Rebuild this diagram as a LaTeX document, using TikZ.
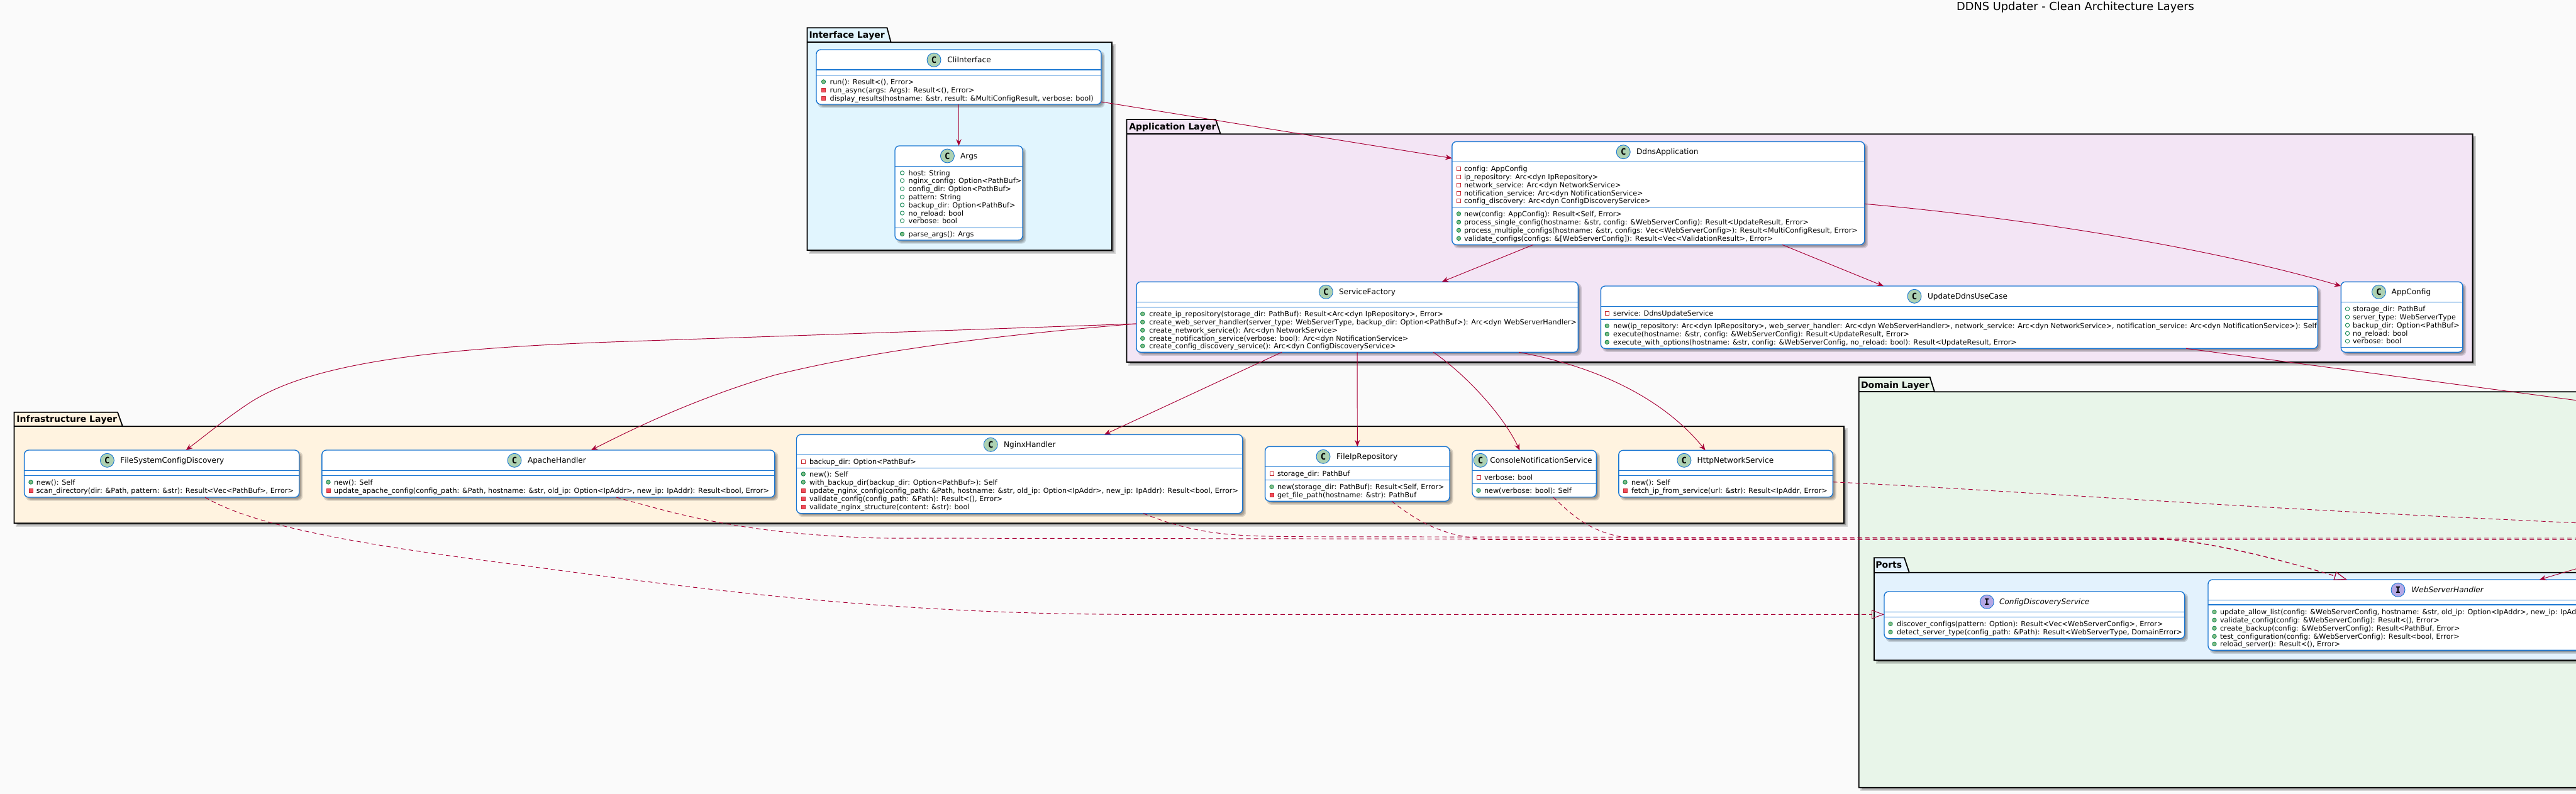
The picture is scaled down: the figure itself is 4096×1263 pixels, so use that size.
\documentclass[tikz,border=0pt]{standalone}
\usepackage{fontspec}
\setmainfont[Ligatures=NoCommon,Kerning=Off]{DejaVu Sans}
\newfontfamily\iconfont{DejaVu Sans Mono}
\usetikzlibrary{arrows.meta}
\definecolor{bgcol}{HTML}{FAFAFA}
\definecolor{relcol}{HTML}{A80036}
\definecolor{boxline}{HTML}{1976D2}
\definecolor{pkgI}{HTML}{E1F5FE}
\definecolor{pkgA}{HTML}{F3E5F5}
\definecolor{pkgS}{HTML}{FFF3E0}
\definecolor{pkgD}{HTML}{E8F5E9}
\definecolor{pkgP}{HTML}{E3F2FD}
\definecolor{iconC}{HTML}{ADD1B2}
\definecolor{iconI}{HTML}{B4A7E5}
\definecolor{publine}{HTML}{038048}
\definecolor{pubfill}{HTML}{84BE84}
\definecolor{prvline}{HTML}{C82930}
\definecolor{prvfill}{HTML}{F24D5C}
\tikzset{
  classnode/.style={draw=boxline,fill=white,line width=1.4pt,rounded corners=7pt,inner sep=0pt,outer sep=0pt},
  sepline/.style={draw=boxline,line width=1.4pt},
  iconnode/.style={circle,draw=boxline,line width=.9pt,minimum size=22pt,inner sep=0pt,outer sep=0pt,font=\iconfont\bfseries\fontsize{14}{14}\selectfont},
  namenode/.style={anchor=base west,inner sep=0pt,outer sep=0pt,font=\fontsize{12.1}{14}\selectfont},
  memnode/.style={anchor=base west,inner sep=0pt,outer sep=0pt,font=\fontsize{11.2}{13}\selectfont},
  pkgtitle/.style={anchor=base west,inner sep=0pt,outer sep=0pt,font=\bfseries\fontsize{14}{16}\selectfont},
  pkgline/.style={draw=black,line width=1.8pt,line join=miter},
  rel/.style={draw=relcol,line width=.95pt,-{Stealth[length=10.5pt,width=8.5pt,inset=3.5pt]}},
  impl/.style={draw=relcol,line width=.95pt,dash pattern=on 7pt off 5pt,-{Triangle[open,length=20pt,width=14pt]}},
  implout/.style={draw=relcol,line width=.95pt,dash pattern=on 7pt off 5pt},
  relout/.style={draw=relcol,line width=.95pt},
}
\newcount\memno
\newcommand\shadowbox[5]{% l t r b radius
  \foreach \g in {1.5,0,-1.5}
    \fill[black,opacity=.14,rounded corners=#5pt] (#1+4-\g,#2+4-\g) rectangle (#3+4+\g,#4+4+\g);
}
\newcommand\pkgbox[9]{%
  \shadowbox{#2}{#3+23}{#7}{#8}{0}
  \path[fill=#9] (#2,#6) -- (#2,#3) -- (#4,#3) -- (#5,#6) -- (#7,#6) -- (#7,#8) -- (#2,#8) -- cycle;
  \draw[pkgline] (#2,#6) -- (#2,#3) -- (#4,#3) -- (#5,#6) -- (#7,#6) -- (#7,#8) -- (#2,#8) -- cycle;
  \draw[pkgline] (#2,#6) -- (#5,#6);
}
\newcommand\classbox[7]{% id l t r b sep1 sep2
  \shadowbox{#2}{#3}{#4}{#5}{7}
  \pgfmathsetmacro\cw{#4-#2}
  \pgfmathsetmacro\ch{#5-#3}
  \node[classnode,minimum width=\cw pt,minimum height=\ch pt] (#1) at ({(#2+#4)/2},{(#3+#5)/2}) {};
  \draw[sepline] (#2,#6) -- (#4,#6);
  \draw[sepline] (#2,#7) -- (#4,#7);
}
\newcommand\classhead[7]{% id letter fill iconx y namex text
  \node[iconnode,fill=#3] (#1-icon) at (#4,#5) {#2};
  \node[namenode] (#1-name) at (#6,{#5+4.2}) {#7};
}
\newcommand\setcols[2]{\def\mx{#1}\def\tx{#2}}
\newcommand\memb[3]{%
  \global\advance\memno by 1
  \csname mk#1\endcsname{#2}%
  \node[memnode] (mem\the\memno) at (\tx,{#2+4.2}) {#3};
}
\newcommand\mkP[1]{\draw[draw=publine,fill=pubfill,line width=.8pt] (\mx,#1) circle[radius=3.2];}
\newcommand\mkF[1]{\draw[draw=publine,line width=.8pt] (\mx,#1) circle[radius=3.2];}
\newcommand\mkM[1]{\draw[draw=prvline,fill=prvfill,line width=.8pt] (\mx-3,#1-3) rectangle (\mx+3,#1+3);}
\newcommand\mkN[1]{\draw[draw=prvline,line width=.8pt] (\mx-3,#1-3) rectangle (\mx+3,#1+3);}
\begin{document}
\begin{tikzpicture}[x=1pt,y=-1pt]
\useasboundingbox (0,0) rectangle (4096,1263);
\fill[bgcol] (0,0) rectangle (4096,1263);
\clip (0,0) rectangle (4096,1263);

\node[anchor=base west,inner sep=0pt,font=\fontsize{17.8}{20}\selectfont] (title) at (3111,17) {DDNS Updater - Clean Architecture Layers};

% packages
\pkgbox{ifl}{1283.5}{44.3}{1410.5}{1416.6}{67.3}{1768}{398}{pkgI}
\node[pkgtitle] (iflT) at (1286.5,60) {Interface Layer};
\pkgbox{app}{1791.5}{190}{1933}{1940.7}{213.3}{3931.6}{576}{pkgA}
\node[pkgtitle] (appT) at (1795.3,206) {Application Layer};
\pkgbox{inf}{22.5}{655.7}{187}{195}{678.3}{2932}{832.3}{pkgS}
\node[pkgtitle] (infT) at (26.5,671) {Infrastructure Layer};
\pkgbox{dom}{2955.7}{600}{3068.7}{3076}{623.3}{4200}{1252.7}{pkgD}
\node[pkgtitle] (domT) at (2959,617) {Domain Layer};
\pkgbox{prt}{2980}{887.3}{3028}{3035.8}{910.7}{4200}{1050.3}{pkgP}
\node[pkgtitle] (prtT) at (2982.4,903) {Ports};

% Interface layer
\classbox{cli}{1298}{79}{1751}{166}{111}{119.3}
\classhead{cli}{C}{iconC}{1485}{95.3}{1506.4}{CliInterface}
\setcols{1309.5}{1319.7}
\memb{P}{130}{run(): Result<(), Error>}
\memb{M}{143.3}{run\_async(args: Args): Result<(), Error>}
\memb{M}{156}{display\_results(hostname: \&str, result: \&MultiConfigResult, verbose: bool)}

\classbox{args}{1423}{232}{1626}{382}{264.3}{362.3}
\classhead{args}{C}{iconC}{1506.4}{248}{1527}{Args}
\setcols{1434.5}{1444.7}
\memb{F}{275}{host: String}
\memb{F}{287.3}{nginx\_config: Option<PathBuf>}
\memb{F}{300.3}{config\_dir: Option<PathBuf>}
\memb{F}{313.3}{pattern: String}
\memb{F}{326}{backup\_dir: Option<PathBuf>}
\memb{F}{339}{no\_reload: bool}
\memb{F}{351}{verbose: bool}
\memb{P}{372.3}{parse\_args(): Args}

% Application layer
\classbox{ddns}{2308.8}{225.3}{2964.7}{389.3}{257.3}{329.3}
\classhead{ddns}{C}{iconC}{2581.2}{241.7}{2602}{DdnsApplication}
\setcols{2319.5}{2328}
\memb{N}{268.3}{config: AppConfig}
\memb{N}{281.3}{ip\_repository: Arc<dyn IpRepository>}
\memb{N}{294.3}{network\_service: Arc<dyn NetworkService>}
\memb{N}{307.3}{notification\_service: Arc<dyn NotificationService>}
\memb{N}{319.7}{config\_discovery: Arc<dyn ConfigDiscoveryService>}
\memb{P}{340}{new(config: AppConfig): Result<Self, Error>}
\memb{P}{353.3}{process\_single\_config(hostname: \&str, config: \&WebServerConfig): Result<UpdateResult, Error>}
\memb{P}{366.3}{process\_multiple\_configs(hostname: \&str, configs: Vec<WebServerConfig>): Result<MultiConfigResult, Error>}
\memb{P}{379.3}{validate\_configs(configs: \&[WebServerConfig]): Result<Vec<ValidationResult>, Error>}

\classbox{sf}{1806.8}{448.3}{2509.3}{560.3}{480.3}{488.7}
\classhead{sf}{C}{iconC}{2108.3}{464.3}{2129}{ServiceFactory}
\setcols{1816.7}{1827.4}
\memb{P}{499.3}{create\_ip\_repository(storage\_dir: PathBuf): Result<Arc<dyn IpRepository>, Error>}
\memb{P}{512.3}{create\_web\_server\_handler(server\_type: WebServerType, backup\_dir: Option<PathBuf>): Arc<dyn WebServerHandler>}
\memb{P}{525.3}{create\_network\_service(): Arc<dyn NetworkService>}
\memb{P}{538.3}{create\_notification\_service(verbose: bool): Arc<dyn NotificationService>}
\memb{P}{550.3}{create\_config\_discovery\_service(): Arc<dyn ConfigDiscoveryService>}

\classbox{upd}{2545.3}{455}{3685.3}{554.3}{487.3}{508}
\classhead{upd}{C}{iconC}{3044}{471.3}{3065}{UpdateDdnsUseCase}
\setcols{2555.2}{2565}
\memb{N}{498.3}{service: DdnsUpdateService}
\memb{P}{518.3}{new(ip\_repository: Arc<dyn IpRepository>, web\_server\_handler: Arc<dyn WebServerHandler>, network\_service: Arc<dyn NetworkService>, notification\_service: Arc<dyn NotificationService>): Self}
\memb{P}{531.3}{execute(hostname: \&str, config: \&WebServerConfig): Result<UpdateResult, Error>}
\memb{P}{544.3}{execute\_with\_options(hostname: \&str, config: \&WebServerConfig, no\_reload: bool): Result<UpdateResult, Error>}

\classbox{cfg}{3722.3}{448.3}{3915.8}{560.3}{480.3}{552.3}
\classhead{cfg}{C}{iconC}{3782.5}{464.3}{3802.7}{AppConfig}
\setcols{3732.5}{3741}
\memb{F}{491.3}{storage\_dir: PathBuf}
\memb{F}{504.3}{server\_type: WebServerType}
\memb{F}{517.3}{backup\_dir: Option<PathBuf>}
\memb{F}{530.3}{no\_reload: bool}
\memb{F}{542.7}{verbose: bool}

% Infrastructure layer
\classbox{fscd}{38.6}{716}{475.7}{791}{748.3}{756.3}
\classhead{fscd}{C}{iconC}{170.4}{732.3}{191.3}{FileSystemConfigDiscovery}
\setcols{49}{57.9}
\memb{P}{767}{new(): Self}
\memb{M}{780.3}{scan\_directory(dir: \&Path, pattern: \&str): Result<Vec<PathBuf>, Error>}

\classbox{apa}{511.9}{716}{1231.9}{791}{748.3}{756.3}
\classhead{apa}{C}{iconC}{818}{732.3}{839}{ApacheHandler}
\setcols{522}{531}
\memb{P}{767}{new(): Self}
\memb{M}{780.3}{update\_apache\_config(config\_path: \&Path, hostname: \&str, old\_ip: Option<IpAddr>, new\_ip: IpAddr): Result<bool, Error>}

\classbox{ngx}{1266.5}{691.3}{1975.7}{816.7}{723.3}{744.3}
\classhead{ngx}{C}{iconC}{1575.2}{707.3}{1596}{NginxHandler}
\setcols{1277.2}{1287}
\memb{N}{734.3}{backup\_dir: Option<PathBuf>}
\memb{P}{754}{new(): Self}
\memb{P}{767}{with\_backup\_dir(backup\_dir: Option<PathBuf>): Self}
\memb{M}{780.3}{update\_nginx\_config(config\_path: \&Path, hostname: \&str, old\_ip: Option<IpAddr>, new\_ip: IpAddr): Result<bool, Error>}
\memb{M}{793.3}{validate\_config(config\_path: \&Path): Result<(), Error>}
\memb{M}{806}{validate\_nginx\_structure(content: \&str): bool}

\classbox{fip}{2011.6}{710.3}{2305}{797.3}{742.3}{763.3}
\classhead{fip}{C}{iconC}{2104}{726.3}{2125}{FileIpRepository}
\setcols{2022}{2031}
\memb{N}{753.3}{storage\_dir: PathBuf}
\memb{P}{774.3}{new(storage\_dir: PathBuf): Result<Self, Error>}
\memb{M}{787}{get\_file\_path(hostname: \&str): PathBuf}

\classbox{con}{2341}{716.3}{2538.3}{790.7}{748.3}{769.3}
\classhead{con}{C}{iconC}{2354}{732.3}{2369.3}{ConsoleNotificationService}
\setcols{2351}{2360}
\memb{N}{759.3}{verbose: bool}
\memb{P}{780.3}{new(verbose: bool): Self}

\classbox{htp}{2573.8}{716.3}{2914.3}{790.7}{748.3}{756.3}
\classhead{htp}{C}{iconC}{2677.9}{732.3}{2698.7}{HttpNetworkService}
\setcols{2584}{2594}
\memb{P}{767}{new(): Self}
\memb{M}{780.3}{fetch\_ip\_from\_service(url: \&str): Result<IpAddr, Error>}

% Ports
\classbox{cds}{2996}{941}{3473.6}{1015.7}{973.3}{981.3}
\classhead{cds}{I}{iconI}{3159.3}{957.3}{3179}{\itshape ConfigDiscoveryService}
\setcols{3006}{3016}
\memb{P}{992.3}{discover\_configs(pattern: Option): Result<Vec<WebServerConfig>, Error>}
\memb{P}{1005.3}{detect\_server\_type(config\_path: \&Path): Result<WebServerType, DomainError>}

\classbox{wsh}{3511}{922}{4220}{1034.3}{954.3}{962}
\classhead{wsh}{I}{iconI}{3813}{938.3}{3834.4}{\itshape WebServerHandler}
\setcols{3521}{3530}
\memb{P}{973.3}{update\_allow\_list(config: \&WebServerConfig, hostname: \&str, old\_ip: Option<IpAddr>, new\_ip: IpAddr}
\memb{P}{986.3}{validate\_config(config: \&WebServerConfig): Result<(), Error>}
\memb{P}{999.3}{create\_backup(config: \&WebServerConfig): Result<PathBuf, Error>}
\memb{P}{1012.3}{test\_configuration(config: \&WebServerConfig): Result<bool, Error>}
\memb{P}{1024.3}{reload\_server(): Result<(), Error>}

% free ends beyond the right edge
\coordinate (updOut) at (4110,638.6);
\coordinate (wshIn) at (4110,900.7);
\coordinate (fipOut) at (4110,858.3);
\coordinate (conOut) at (4110,856);
\coordinate (htpOut) at (4110,832.3);

% solid connectors
\draw[rel] (cli.south) -- (args.north);
\draw[rel] ([yshift=-39.5pt]cli.east) -- ([yshift=55.6pt]ddns.west);
\draw[rel] ([xshift=-198.75pt]ddns.south) -- ([xshift=134.65pt]sf.north);
\draw[rel] ([xshift=197.05pt]ddns.south) -- ([xshift=-120.5pt]upd.north);
\draw[rel] ([yshift=-17pt]ddns.east) .. controls (3200,345) and (3500,390) .. ([yshift=49.3pt]cfg.west);
\draw[relout] ([xshift=360.7pt]upd.south) -- (updOut);
\draw[rel] (wshIn) -- ([xshift=172.5pt]wsh.north);
\draw[rel] ([yshift=-10.7pt]sf.west) .. controls (1500,526) and (1200,536) .. (1000,543) .. controls (700,553) and (500,575) .. (398,640) .. controls (360,665) and (330,690) .. ([xshift=38.55pt]fscd.north);
\draw[rel] ([yshift=-10.7pt]sf.west) .. controls (1600,532) and (1400,555) .. (1231.5,596.7) .. controls (1120,630) and (1030,670) .. ([xshift=68.1pt]apa.north);
\draw[rel] ([xshift=-120pt]sf.south) -- ([xshift=134.9pt]ngx.north);
\draw[rel] (sf.south) -- (fip.north);
\draw[rel] ([xshift=121pt]sf.south) .. controls (2330,595) and (2390,660) .. ([xshift=-23.25pt]con.north);
\draw[rel] ([xshift=257pt]sf.south) .. controls (2550,585) and (2650,640) .. ([xshift=-32.45pt]htp.north);

% dashed connectors
\draw[impl] ([xshift=68.85pt]fscd.south) .. controls (400,835) and (560,865) .. (820,898) .. controls (1100,935) and (1400,977) .. (1800,977.3) -- ([yshift=1pt]cds.west);
\draw[impl] ([xshift=108.1pt]apa.south) .. controls (1100,825) and (1200,850) .. (1400,856) -- (3000,858.3) -- (3420,857) .. controls (3500,858) and (3620,888) .. ([xshift=-133.9pt]wsh.north);
\draw[impl] ([xshift=196.9pt]ngx.south) .. controls (1900,850) and (1960,853) .. (2060,853.7) -- (3420,855.5) .. controls (3500,858) and (3620,888) .. ([xshift=-133.9pt]wsh.north);
\draw[implout] ([xshift=54.7pt]fip.south) .. controls (2260,835) and (2300,852) .. (2360,858.3) -- (fipOut);
\draw[implout] ([xshift=30.05pt]con.south) .. controls (2500,820) and (2530,848) .. (2590,856) -- (conOut);
\draw[implout] ([yshift=-13.2pt]htp.east) .. controls (3200,780) and (3500,805) .. (htpOut);
\end{tikzpicture}
\end{document}
